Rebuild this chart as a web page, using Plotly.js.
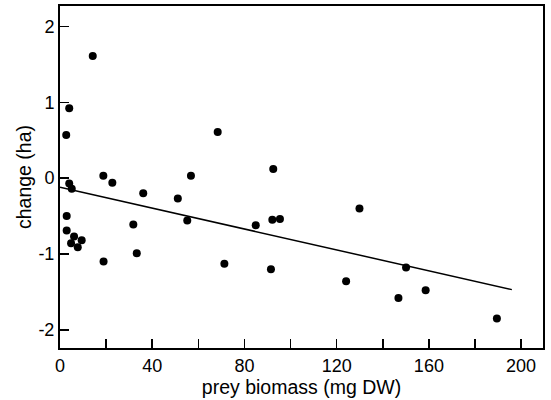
<!DOCTYPE html>
<html>
<head>
<meta charset="utf-8">
<script src="https://cdn.plot.ly/plotly-3.0.1.min.js"></script>
<style>html,body{margin:0;padding:0;background:#fff;}#chart{width:551px;height:400px;}</style>
</head>
<body>
<div id="chart"></div>
<script>
// Observed points
const preyBiomass = [14.2, 4.0, 2.7, 4.0, 5.1, 18.8, 22.7, 36.1, 51.1, 56.8, 68.4, 92.5,
  2.9, 2.9, 6.1, 4.8, 7.7, 9.4, 31.8, 33.3, 18.9, 55.2, 71.3, 84.9, 91.5, 92.1, 95.4,
  129.9, 150.1, 124.1, 146.8, 158.6, 189.5];
const changeHa = [1.61, 0.92, 0.57, -0.07, -0.14, 0.03, -0.06, -0.20, -0.27, 0.03, 0.61, 0.12,
  -0.50, -0.69, -0.77, -0.86, -0.91, -0.82, -0.61, -0.99, -1.10, -0.56, -1.13, -0.62, -1.20, -0.55, -0.54,
  -0.40, -1.18, -1.36, -1.58, -1.48, -1.85];
// Fitted regression line end points
const fitX = [0, 196];
const fitY = [-0.12, -1.47];
// Tick labels
const xTickVals = [0, 40, 80, 120, 160, 200];
const xTickText = ['0', '40', '80', '120', '160', '200'];
const xMinorVals = [20, 60, 100, 140, 180];
const yTickVals = [-2, -1, 0, 1, 2];
const yTickText = ['-2', '-1', '0', '1', '2'];

const font = 'Liberation Sans, Arial, Helvetica, sans-serif';

const traces = [
  {x: fitX, y: fitY, mode: 'lines', type: 'scatter', line: {color: '#000', width: 1.5}, hoverinfo: 'skip'},
  {x: preyBiomass, y: changeHa, mode: 'markers', type: 'scatter', marker: {color: '#000', size: 8}}
];

const layout = {
  width: 551, height: 400,
  margin: {l: 60, r: 8, t: 6, b: 52},
  paper_bgcolor: '#fff', plot_bgcolor: '#fff',
  showlegend: false,
  font: {family: font, color: '#000', size: 18},
  xaxis: {
    range: [0, 209.5], showgrid: false, zeroline: false,
    showline: true, linecolor: '#000', linewidth: 2, mirror: true,
    ticks: 'inside', ticklen: 9, tickwidth: 1.5, tickcolor: '#000',
    tickmode: 'array', tickvals: xTickVals, ticktext: xTickText,
    minor: {tickvals: xMinorVals, ticks: 'inside', ticklen: 9, tickwidth: 1.5, tickcolor: '#000'},
    tickfont: {size: 18}, ticklabelstandoff: 0,
    title: {text: 'prey biomass (mg DW)', font: {size: 19.5}, standoff: 6}
  },
  yaxis: {
    range: [-2.24, 2.27], showgrid: false, zeroline: false,
    showline: true, linecolor: '#000', linewidth: 2, mirror: true,
    ticks: 'inside', ticklen: 9, tickwidth: 1.5, tickcolor: '#000',
    tickmode: 'array', tickvals: yTickVals, ticktext: yTickText,
    tickfont: {size: 18}, ticklabelstandoff: 0,
    title: {text: 'change (ha)', font: {size: 19.5}, standoff: 2}
  }
};

Plotly.newPlot('chart', traces, layout, {displayModeBar: false, staticPlot: true});
</script>
</body>
</html>
